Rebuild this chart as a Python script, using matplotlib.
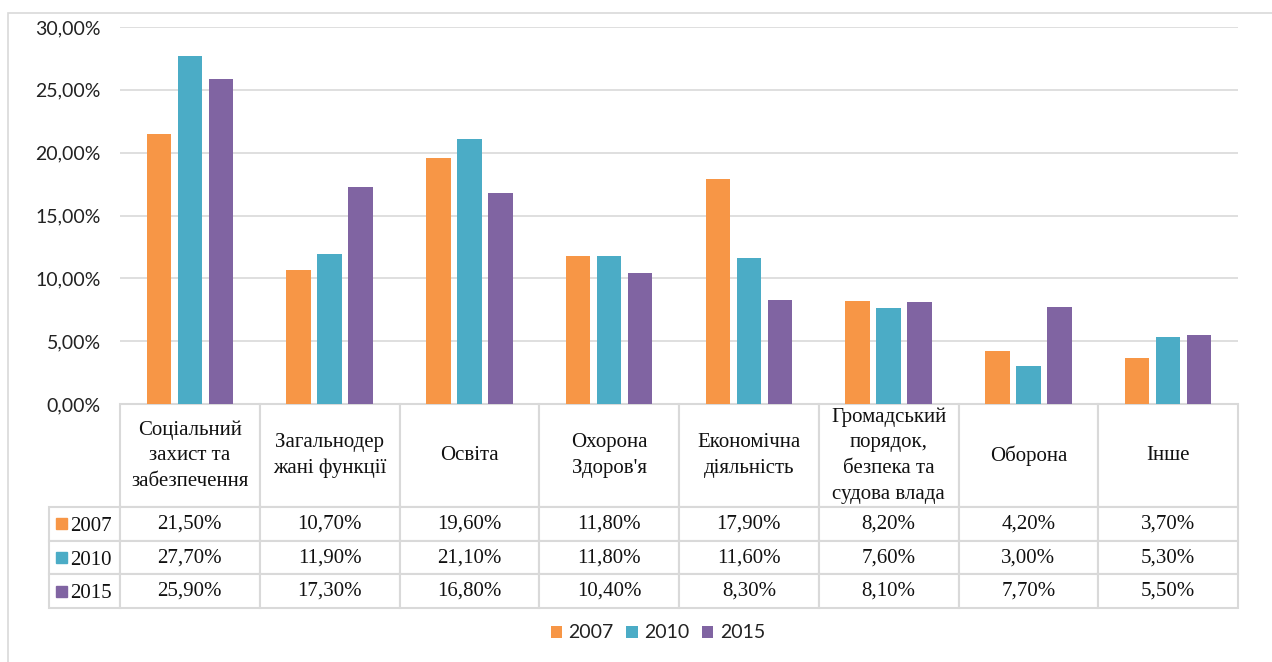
import matplotlib.pyplot as plt
import matplotlib.font_manager as fm
from matplotlib.table import Table
from matplotlib.patches import Rectangle
from matplotlib.ticker import FuncFormatter

# Categories (table header text)
categories = ["Соціальний\nзахист та\nзабезпечення", "Загальнодер\nжані функції", "Освіта",
              "Охорона\nЗдоров'я", "Економічна\nдіяльність",
              "Громадський\nпорядок,\nбезпека та\nсудова влада", "Оборона", "Інше"]
years = ["2007", "2010", "2015"]

# Shares of expenditures, %
v2007 = [21.5, 10.7, 19.6, 11.8, 17.9, 8.2, 4.2, 3.7]
v2010 = [27.7, 11.9, 21.1, 11.8, 11.6, 7.6, 3.0, 5.3]
v2015 = [25.9, 17.3, 16.8, 10.4, 8.3, 8.1, 7.7, 5.5]
series = [v2007, v2010, v2015]
colors = ["#F79646", "#4BACC6", "#8064A2"]

# serif font for the data table (Times look-alike)
serif_file = next((f for f in fm.findSystemFonts() if "LiberationSerif-Regular" in f), None)
if serif_file:
    serif = fm.FontProperties(fname=serif_file, size=15)
else:
    serif = fm.FontProperties(family=["Liberation Serif", "DejaVu Serif"], size=15)

W, H = 1272, 662
fig = plt.figure(figsize=(W / 100, H / 100), dpi=100)

# chart area frame
fig.patches.append(Rectangle((8 / W, -0.1), 1.2, 1 - 13 / H + 0.1, transform=fig.transFigure,
                             fill=False, edgecolor="#D9D9D9", linewidth=1.2))

ax = fig.add_axes([120 / W, 1 - 404 / H, 1118 / W, 377 / H])
x = list(range(len(categories)))
offsets = [-0.222, 0, 0.222]
for vals, off, c, yr in zip(series, offsets, colors, years):
    ax.bar([i + off for i in x], [v / 100 for v in vals], width=0.175, color=c,
           label=yr, zorder=3)

ax.set_xlim(-0.5, len(categories) - 0.5)
ax.set_ylim(0, 0.30)
ax.set_yticks([0, 0.05, 0.10, 0.15, 0.20, 0.25, 0.30])
ax.yaxis.set_major_formatter(FuncFormatter(lambda v, p: f"{v * 100:.2f}%".replace(".", ",")))
ax.tick_params(axis="y", length=0, pad=14, labelsize=14, labelcolor="#222222")
for lab in ax.get_yticklabels():
    lab.set_fontfamily("Lato")
ax.set_xticks([])
ax.grid(axis="y", color="#D9D9D9", linewidth=1.2, zorder=0)
for s in ax.spines.values():
    s.set_visible(False)

# data table under the plot (column 0 holds the year labels)
px_w, px_h = 1118, 377
lab_w = 71 / px_w
col_w = 1 / len(categories)
hdr_h, row_h = 103 / px_h, 33.7 / px_h
tab_h = hdr_h + 3 * row_h
tbl = Table(ax, bbox=[-lab_w, -tab_h, lab_w + 1, tab_h])
tbl.auto_set_font_size(False)
c = tbl.add_cell(0, 0, width=lab_w, height=hdr_h, text="")
c.visible_edges = ""
for j, cat in enumerate(categories):
    cell = tbl.add_cell(0, j + 1, width=col_w, height=hdr_h, text=cat, loc="center")
    cell.get_text().set_fontproperties(serif)
    cell.get_text().set_linespacing(1.48)
for i, vals in enumerate(series):
    tbl.add_cell(i + 1, 0, width=lab_w, height=row_h, text="")
    for j, v in enumerate(vals):
        cell = tbl.add_cell(i + 1, j + 1, width=col_w, height=row_h,
                            text=f"{v:.2f}%".replace(".", ","), loc="center")
        cell.get_text().set_fontproperties(serif)
for cell in tbl.get_celld().values():
    cell.set_edgecolor("#D9D9D9")
    cell.set_linewidth(1.5)
    cell.set_facecolor("white")
    cell.get_text().set_color("#111111")
ax.add_table(tbl)

# colour keys and years in the label column
for i, (yr, col) in enumerate(zip(years, colors)):
    yc = -(hdr_h + (i + 0.5) * row_h)
    ax.add_patch(Rectangle((-64 / px_w, yc - 5.5 / px_h), 11 / px_w, 11 / px_h,
                           transform=ax.transAxes, color=col, clip_on=False, zorder=5))
    ax.text(-50 / px_w, yc, yr, transform=ax.transAxes, ha="left", va="center_baseline",
            fontproperties=serif, color="#111111", zorder=6)

# legend at the bottom
leg = fig.legend(loc="center", bbox_to_anchor=(658 / W, 1 - 633 / H), ncol=3, frameon=False,
                 prop=dict(family="Lato", size=14), handlelength=0.57, handleheight=0.57,
                 handletextpad=0.35, columnspacing=0.65)
for t in leg.get_texts():
    t.set_color("#222222")

fig.savefig("out.png", dpi=100)
